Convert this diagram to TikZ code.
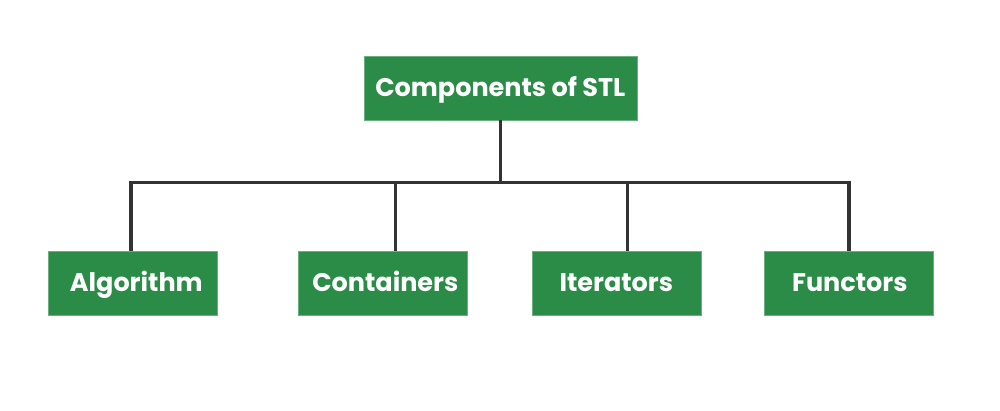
\documentclass[tikz,border=0pt]{standalone}
\usepackage{fontspec}
\setmainfont{Poppins}
\definecolor{boxgreen}{HTML}{2A8C47}
\definecolor{linegray}{HTML}{333333}
\begin{document}
\begin{tikzpicture}[x=1pt,y=-1pt,
  box/.style={fill=boxgreen, draw=boxgreen!70!white, line width=0.6pt, text=white, font=\fontsize{25.5}{28}\selectfont\bfseries, inner sep=0pt, text height=18pt, text depth=0pt, anchor=north west},
  wire/.style={draw=linegray, line width=3.6pt},
]
\useasboundingbox (0,0) rectangle (1000,410);
\node[box, minimum width=273, minimum height=64] (top) at (363.5,55.5) {Components of STL};
\node[box, minimum width=169, minimum height=64] (alg) at (47.5,250.5) {\hspace*{8pt}Algorithm};
\node[box, minimum width=169, minimum height=64] (cont) at (297.5,250.5) {\hspace*{6pt}Containers};
\node[box, minimum width=169, minimum height=64] (iter) at (531.5,250.5) {Iterators};
\node[box, minimum width=169, minimum height=64] (func) at (763.5,250.5) {\hspace*{3pt}Functors};
\coordinate (busL) at (130.5,182.5);
\coordinate (busR) at (849.5,182.5);
\draw[wire] (top.south) -- (top.south |- busL);
\draw[wire, line cap=rect] (busL) -- (busR);
\draw[wire] ([xshift=-1.5pt]alg.north) -- ([xshift=-1.5pt]alg.north |- busL);
\draw[wire] ([xshift=13pt]cont.north) -- ([xshift=13pt]cont.north |- busL);
\draw[wire] ([xshift=11pt]iter.north) -- ([xshift=11pt]iter.north |- busL);
\draw[wire] ([xshift=0.5pt]func.north) -- ([xshift=0.5pt]func.north |- busL);
\end{tikzpicture}
\end{document}
